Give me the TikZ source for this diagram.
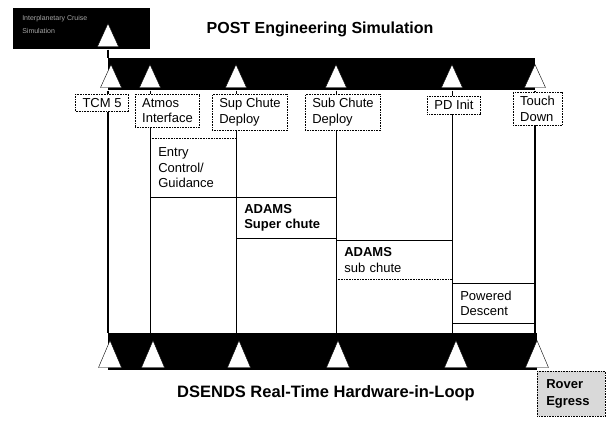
\documentclass[tikz,border=0pt]{standalone}
\usepackage{fontspec}
\setmainfont{Liberation Sans}
\usetikzlibrary{positioning}
\usetikzlibrary{shapes.geometric}

\begin{document}
\begin{tikzpicture}[
            x = 1pt, y = -1pt, % pixel grid, y going down
            semithick, % line style
            font = \fontsize{13}{15.5}\selectfont
        ]

        \tikzstyle{tri}=[
            isosceles triangle,
            isosceles triangle stretches,
            shape border rotate = 90,
            minimum width = 21,
            minimum height = 23,
            inner sep = 0pt,
            draw = black, thin,
            fill = white,
            anchor = apex
        ]
        \tikzstyle{bar}=[fill = black, inner sep = 0pt, anchor = north west]
        \tikzstyle{evbox}=[
            draw, densely dotted,
            fill = white,
            align = left,
            inner xsep = 7pt, inner ysep = 4pt,
            anchor = north
        ]
        \tikzstyle{phase}=[inner xsep = 8pt, inner ysep = 0pt, align = left, anchor = north west]
        \tikzstyle{main line}=[line width = 1.8pt]
        \tikzstyle{event line}=[thin]

        \useasboundingbox (0,0) rectangle (608,423);

% cruise level
        \node[bar, minimum width = 137, minimum height = 41] (cruise) at (13,8) {};
        \node[anchor = north west, inner sep = 0pt, align = left, text = gray!70,
              font = \fontsize{7}{13}\selectfont] (cruisetxt) at (22,15) {Interplanetary Cruise\\Simulation};
        \node[tri] (T0) at (108,23) {};

% POST level
        \node[font = \bfseries\fontsize{16}{18}\selectfont] (post) at (320,29) {POST Engineering Simulation};
        \node[bar, minimum width = 427, minimum height = 32] (postbar) at (108,58) {};

% DSENDS level
        \node[bar, minimum width = 429, minimum height = 37] (dsbar) at (108,333) {};
        \node[font = \bfseries\fontsize{16.5}{18}\selectfont] (dsends) at (326,393) {DSENDS Real-Time Hardware-in-Loop};

        \draw[main line] (T0.apex |- cruise.south) -- (T0.apex |- postbar.north);

% event lines
        \node[tri] (TA) at (111,64) {};
        \node[tri] (TB) at (150,64) {};
        \node[tri] (TC) at (236,64) {};
        \node[tri] (TD) at (336,64) {};
        \node[tri] (TE) at (452,64) {};
        \node[tri] (TF) at (535,64) {};

        \draw[main line] (postbar.south west) -- (dsbar.north west);
        \draw[event line] (TB.apex |- postbar.south) -- (TB.apex |- dsbar.north);
        \draw[event line] (TC.apex |- postbar.south) -- (TC.apex |- dsbar.north);
        \draw[event line] (TD.apex |- postbar.south) -- (TD.apex |- dsbar.north);
        \draw[event line] (TE.apex |- postbar.south) -- (TE.apex |- dsbar.north);
        \draw[main line] (TF.apex |- postbar.south) -- (TF.apex |- dsbar.north);

        \node[tri, minimum width = 23, minimum height = 27] (BA) at (110,340) {};
        \node[tri, minimum width = 23, minimum height = 27] (BB) at (153,340) {};
        \node[tri, minimum width = 23, minimum height = 27] (BC) at (239,340) {};
        \node[tri, minimum width = 23, minimum height = 27] (BD) at (338,340) {};
        \node[tri, minimum width = 23, minimum height = 27] (BE) at (456,340) {};
        \node[tri, minimum width = 23, minimum height = 27] (BF) at (537,340) {};

% event labels
        \node[evbox] (tcm) at (102,94) {TCM 5};
        \node[evbox] (atmos) at (167.5,94) {Atmos\\Interface};
        \node[evbox] (supchute) at (250,94) {Sup Chute\\Deploy};
        \node[evbox] (subchute) at (343,94) {Sub Chute\\Deploy};
        \node[evbox] (pdinit) at (454,96) {PD Init};
        \node[evbox] (touchdown) at (537.5,92) {Touch\\Down};

% phases
        \node[phase, minimum width = 86, minimum height = 59, text width = 70] (entry) at (150,138) {Entry\\Control/\\Guidance};
        \node[phase, minimum width = 100, minimum height = 41, text width = 84] (superchute) at (236,197) {\textbf{ADAMS}\\\textbf{Super chute}};
        \node[phase, minimum width = 116, minimum height = 39, text width = 100] (subchute2) at (336,240) {\textbf{ADAMS}\\sub chute};
        \node[phase, minimum width = 83, minimum height = 40, text width = 67] (powered) at (452,283) {Powered\\Descent};

        \draw[densely dotted] (entry.north west) -- (entry.north east);
        \draw[thin] (entry.south west) -- (entry.south east);
        \draw[thin] (superchute.north west) -- (superchute.north east);
        \draw[thin] (superchute.south west) -- (superchute.south east);
        \draw[thin] (subchute2.north west) -- (subchute2.north east);
        \draw[densely dotted] (subchute2.south west) -- (subchute2.south east);
        \draw[thin] (powered.north west) -- (powered.north east);
        \draw[thin] (powered.south west) -- (powered.south east);

        \node[draw, densely dotted, fill = gray!30, anchor = north west, align = left,
              minimum width = 68, minimum height = 45, text width = 50, inner xsep = 9pt,
              font = \bfseries\fontsize{13}{17}\selectfont] (rover) at (537,371) {Rover\\Egress};

  \end{tikzpicture}
\end{document}
